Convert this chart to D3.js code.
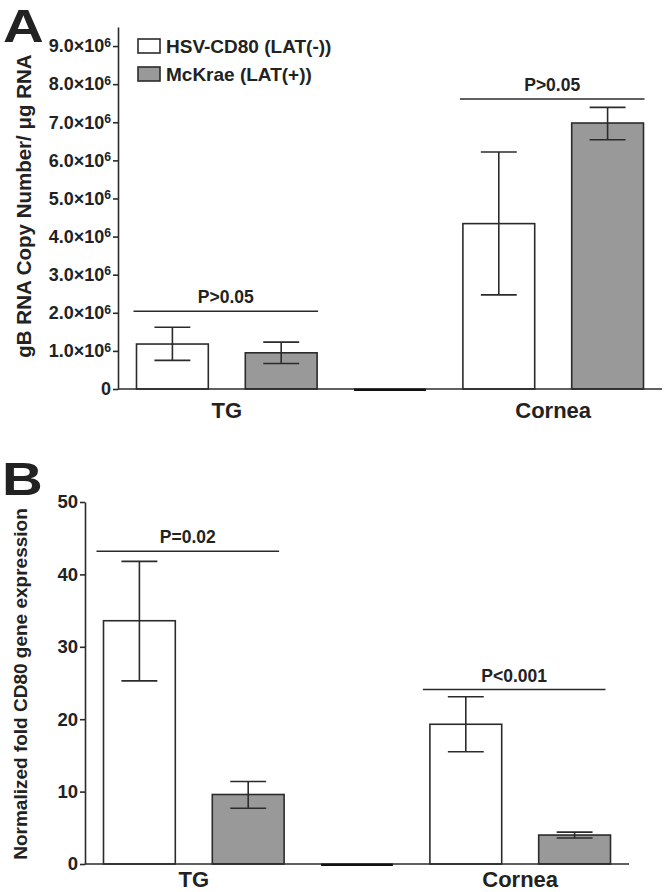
<!DOCTYPE html>
<html><head><meta charset="utf-8">
<script src="https://cdn.jsdelivr.net/npm/d3@7"></script>
<style>
body{margin:0;background:#fff;}
text{font-family:"Liberation Sans",Arial,sans-serif;font-weight:bold;fill:#222;}
</style></head>
<body><svg id="c" width="666" height="892"></svg>
<script>
// ---------- data ----------
const groups = ["TG", "Cornea"];
const seriesNames = ["HSV-CD80 (LAT(-))", "McKrae (LAT(+))"];
const seriesFill = ["#ffffff", "#999999"];

// Panel A: gB RNA copy number / µg RNA
const aMeanHSV = [1.18e6, 4.34e6];
const aLowHSV  = [0.75e6, 2.47e6];
const aHighHSV = [1.62e6, 6.22e6];
const aMeanMcK = [0.95e6, 6.98e6];
const aLowMcK  = [0.67e6, 6.54e6];
const aHighMcK = [1.23e6, 7.39e6];
const aTicks = [0, 1e6, 2e6, 3e6, 4e6, 5e6, 6e6, 7e6, 8e6, 9e6];
const aPLabels = ["P>0.05", "P>0.05"];
const aPLevel = [2.04e6, 7.61e6];

// Panel B: normalized fold CD80 gene expression
const bMeanHSV = [33.6, 19.3];
const bLowHSV  = [25.3, 15.5];
const bHighHSV = [41.8, 23.1];
const bMeanMcK = [9.6, 4.0];
const bLowMcK  = [7.7, 3.6];
const bHighMcK = [11.4, 4.4];
const bTicks = [0, 10, 20, 30, 40, 50];
const bPLabels = ["P=0.02", "P<0.001"];
const bPLevel = [43.2, 24.1];

const slots = ["TG-0", "TG-1", "gap", "Cornea-0", "Cornea-1"];
const ink = "#2b2b2b";

const svg = d3.select("#c");

function panel(cfg) {
  const g = svg.append("g");
  const x = d3.scaleBand().domain(slots).range([cfg.x0, cfg.x1])
    .paddingInner(0.34).paddingOuter(0.17);
  const y = d3.scaleLinear().domain(cfg.domain).range([cfg.yBottom, cfg.yTop]);

  // y axis
  const ax = g.append("g").attr("transform", `translate(${cfg.x0},0)`)
    .call(d3.axisLeft(y).tickValues(cfg.ticks).tickSize(5).tickSizeOuter(0).tickPadding(2).tickFormat(cfg.fmt));
  ax.select(".domain").attr("stroke", ink).attr("stroke-width", 1.6);
  ax.selectAll(".tick line").attr("stroke", ink).attr("stroke-width", 1.6);
  ax.selectAll(".tick text").attr("font-size", cfg.tickFont).attr("fill", "#222")
    .style("font-family", '"Liberation Sans",Arial,sans-serif').style("font-weight", "bold");
  if (cfg.sci) {
    ax.selectAll(".tick text").each(function(d) {
      if (d === 0) return;
      const t = d3.select(this);
      t.text(null);
      t.append("tspan").text((d / 1e6).toFixed(1) + "×10");
      t.append("tspan").attr("dy", "-0.45em").attr("font-size", cfg.tickFont * 0.68).text("6");
    });
  }

  // bars
  const rows = [];
  groups.forEach((gname, i) => {
    rows.push({slot: gname + "-0", s: 0, mean: cfg.mean[0][i], lo: cfg.lo[0][i], hi: cfg.hi[0][i]});
    rows.push({slot: gname + "-1", s: 1, mean: cfg.mean[1][i], lo: cfg.lo[1][i], hi: cfg.hi[1][i]});
  });
  g.selectAll("rect.bar").data(rows).join("rect").attr("class", "bar")
    .attr("x", d => x(d.slot)).attr("width", x.bandwidth())
    .attr("y", d => y(d.mean)).attr("height", d => y(0) - y(d.mean))
    .attr("fill", d => seriesFill[d.s]).attr("stroke", ink).attr("stroke-width", 1.6);

  // x axis line
  g.append("line").attr("x1", cfg.x0).attr("x2", cfg.x1).attr("y1", y(0)).attr("y2", y(0))
    .attr("stroke", ink).attr("stroke-width", 1.6);
  // empty separator slot (zero-height bar)
  g.append("line").attr("x1", x("gap")).attr("x2", x("gap") + x.bandwidth())
    .attr("y1", y(0) + 0.8).attr("y2", y(0) + 0.8).attr("stroke", "#111").attr("stroke-width", 2.6);

  // error bars
  const cap = x.bandwidth() * 0.25;
  rows.forEach(d => {
    const cx = x(d.slot) + x.bandwidth() / 2;
    g.append("line").attr("x1", cx).attr("x2", cx).attr("y1", y(d.lo)).attr("y2", y(d.hi))
      .attr("stroke", ink).attr("stroke-width", 1.6);
    [d.lo, d.hi].forEach(v => g.append("line").attr("x1", cx - cap).attr("x2", cx + cap)
      .attr("y1", y(v)).attr("y2", y(v)).attr("stroke", ink).attr("stroke-width", 1.6));
  });

  // significance lines
  groups.forEach((gname, i) => {
    const xa = x(gname + "-0") + cfg.sigOff[0];
    const xb = x(gname + "-1") + x.bandwidth() + cfg.sigOff[1];
    const yy = y(cfg.pLevel[i]);
    g.append("line").attr("x1", xa).attr("x2", xb).attr("y1", yy).attr("y2", yy)
      .attr("stroke", ink).attr("stroke-width", 1.6);
    g.append("text").attr("x", (xa + xb) / 2).attr("y", yy - 8).attr("text-anchor", "middle")
      .attr("font-size", 17.5).text(cfg.pLabels[i]);
  });

  // category labels
  groups.forEach(gname => {
    const cx = (x(gname + "-0") + x(gname + "-1") + x.bandwidth()) / 2;
    g.append("text").attr("x", cx).attr("y", cfg.catY).attr("text-anchor", "middle")
      .attr("font-size", 22).text(gname);
  });

  // y title
  g.append("text").attr("transform", `translate(${cfg.titleX},${cfg.titleY}) rotate(-90)`)
    .attr("text-anchor", "middle").attr("font-size", cfg.titleFont).text(cfg.title);

  // panel letter
  g.append("text").attr("transform", `translate(${cfg.letterX},${cfg.letterY}) scale(1.2,1)`)
    .attr("font-size", 47)
    .style("font-family", '"Liberation Sans",Arial,sans-serif').attr("font-weight", 900)
    .attr("fill", "#111").text(cfg.letter);
  return {x, y};
}

panel({
  x0: 118, x1: 662, yBottom: 389, yTop: 27, domain: [0, 9.5e6], ticks: aTicks, sci: true,
  fmt: d => d === 0 ? "0" : String(d), tickFont: 18,
  mean: [aMeanHSV, aMeanMcK], lo: [aLowHSV, aLowMcK], hi: [aHighHSV, aHighMcK],
  pLabels: aPLabels, pLevel: aPLevel, sigOff: [-3, 1], catY: 418,
  title: "gB RNA Copy Number/ μg RNA", titleX: 31, titleY: 206, titleFont: 20.5,
  letter: "A", letterX: 3, letterY: 42
});

panel({
  x0: 85, x1: 629, yBottom: 864, yTop: 502, domain: [0, 50], ticks: bTicks, sci: false,
  fmt: d => String(d), tickFont: 18.5,
  mean: [bMeanHSV, bMeanMcK], lo: [bLowHSV, bLowMcK], hi: [bHighHSV, bHighMcK],
  pLabels: bPLabels, pLevel: bPLevel, sigOff: [-7, -5], catY: 887,
  title: "Normalized fold CD80 gene expression", titleX: 27, titleY: 684, titleFont: 19,
  letter: "B", letterX: 2, letterY: 495
});

// legend
const leg = svg.append("g");
seriesNames.forEach((n, i) => {
  leg.append("rect").attr("x", 138).attr("y", 39 + i * 28).attr("width", 22).attr("height", 14)
    .attr("fill", seriesFill[i]).attr("stroke", ink).attr("stroke-width", 1.6);
  leg.append("text").attr("x", 166).attr("y", 53 + i * 28).attr("font-size", 19).text(n);
});
</script></body></html>
